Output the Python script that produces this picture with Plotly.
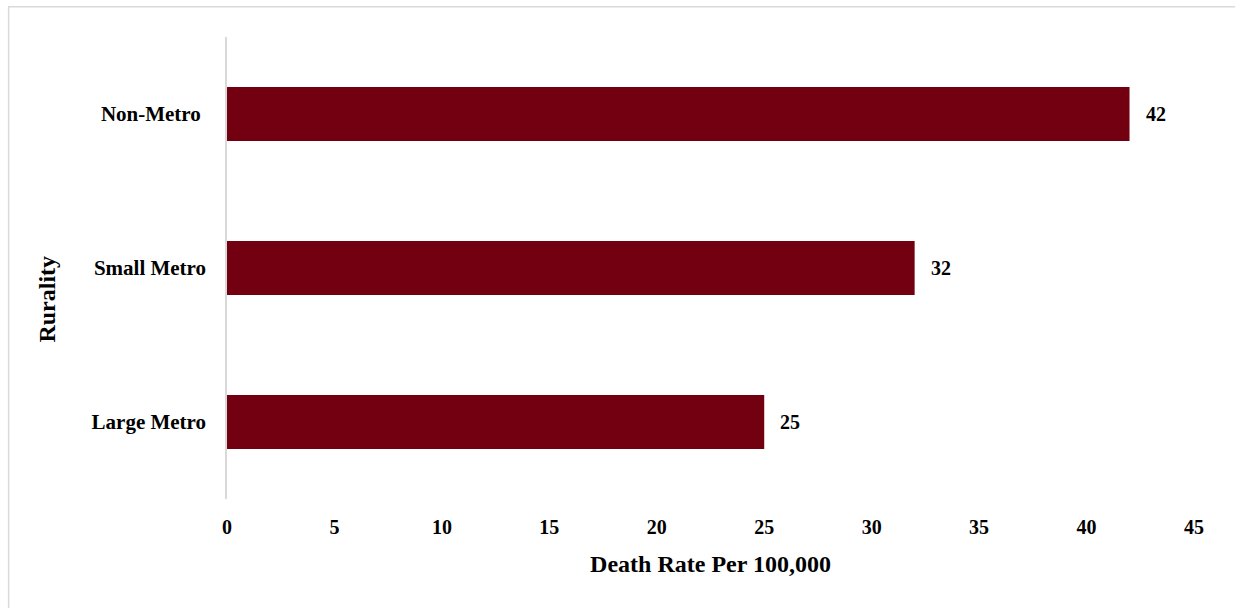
import plotly.graph_objects as go

categories = ["Large Metro", "Small Metro", "Non-Metro\u00a0"]
death_rates = [25, 32, 42]
x_ticks = [0, 5, 10, 15, 20, 25, 30, 35, 40, 45]

FONT = "Liberation Serif"
BAR = "#720010"

fig = go.Figure()
fig.add_trace(go.Bar(
    y=categories, x=death_rates, orientation="h",
    marker=dict(color=BAR, line=dict(width=0)),
    width=0.35, hoverinfo="x+y",
))

for c, v in zip(categories, death_rates):
    fig.add_annotation(x=v, y=c, text=f"<b>{v}</b>", showarrow=False,
                       xanchor="left", xshift=14,
                       font=dict(family=FONT, size=20, color="#000000"))

fig.add_annotation(xref="paper", yref="paper", x=-0.1865, y=0.433,
                   xanchor="center", yanchor="middle",
                   text="<b>Rurality</b>", textangle=-90, showarrow=False,
                   font=dict(family=FONT, size=24, color="#000000"))

fig.add_shape(type="rect", xref="paper", yref="paper",
              x0=-0.2258, y0=-0.27, x1=1.06, y1=1.0655,
              line=dict(color="#d9d9d9", width=1.5), layer="below")

fig.update_layout(
    width=1235, height=608,
    margin=dict(l=227, r=40.5, t=37, b=109),
    paper_bgcolor="white", plot_bgcolor="white",
    showlegend=False,
    font=dict(family=FONT, color="#000000"),
    xaxis=dict(
        range=[0, 45], tickvals=x_ticks, ticktext=[f"<b>{t}</b>" for t in x_ticks],
        showgrid=False, zeroline=False, showline=False,
        tickfont=dict(family=FONT, size=20, color="#000000"),
        ticks="", ticklabelstandoff=14,
        title=dict(text="<b>Death Rate Per 100,000</b>", standoff=18,
                   font=dict(family=FONT, size=24, color="#000000")),
    ),
    yaxis=dict(
        categoryorder="array", categoryarray=categories,
        range=[-0.5, 2.5],
        showgrid=False, zeroline=False,
        showline=True, linecolor="#d9d9d9", linewidth=1.5,
        tickfont=dict(family=FONT, size=21, color="#000000"),
        ticktext=[f"<b>{c}</b>" for c in categories], tickvals=categories,
        ticks="", ticklabelstandoff=15,
    ),
)

fig.write_html("out.html")
